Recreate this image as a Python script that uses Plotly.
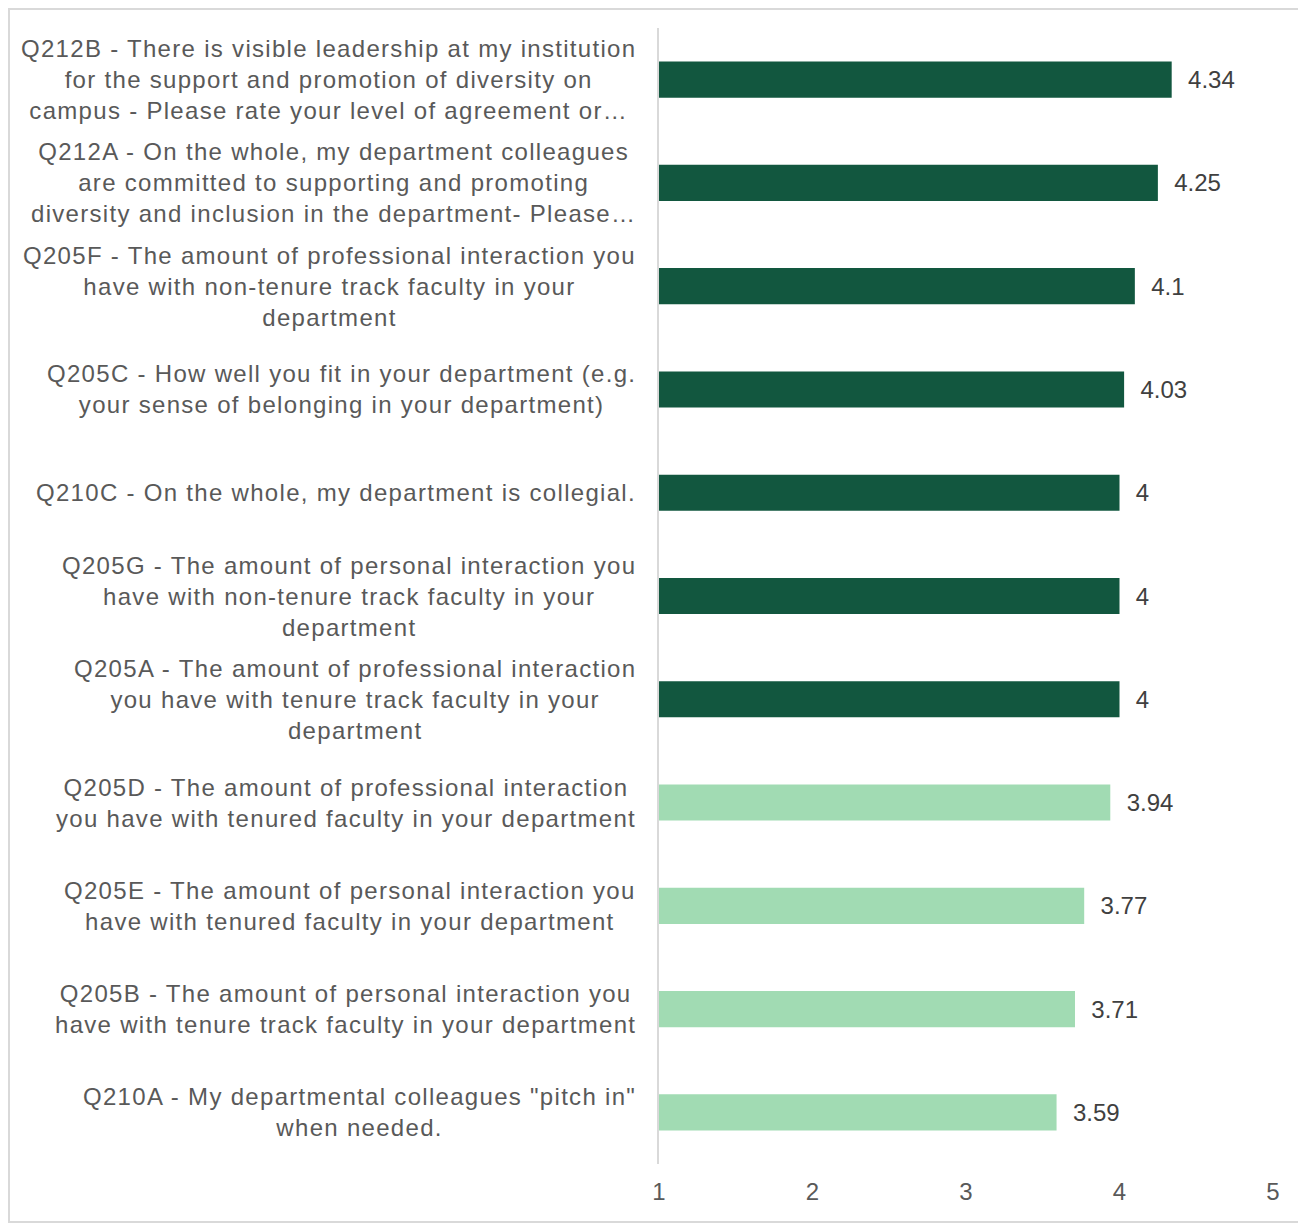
import plotly.graph_objects as go

# ── data ────────────────────────────────────────────────────────────────────
questions = [
    "Q212B - There is visible leadership at my institution<br>for the support and promotion of diversity on<br>campus - Please rate your level of agreement or…",
    "Q212A - On the whole, my department colleagues<br>are committed to supporting and promoting<br>diversity and inclusion in the department- Please…",
    "Q205F - The amount of professional interaction you<br>have with non-tenure track faculty in your<br>department",
    "Q205C - How well you fit in your department (e.g.<br>your sense of belonging in your department)",
    "Q210C - On the whole, my department is collegial.",
    "Q205G - The amount of personal interaction you<br>have with non-tenure track faculty in your<br>department",
    "Q205A - The amount of professional interaction<br>you have with tenure track faculty in your<br>department",
    "Q205D - The amount of professional interaction<br>you have with tenured faculty in your department",
    "Q205E - The amount of personal interaction you<br>have with tenured faculty in your department",
    "Q205B - The amount of personal interaction you<br>have with tenure track faculty in your department",
    "Q210A - My departmental colleagues \"pitch in\"<br>when needed.",
]
scores = [4.34, 4.25, 4.1, 4.03, 4, 4, 4, 3.94, 3.77, 3.71, 3.59]
score_labels = ["4.34", "4.25", "4.1", "4.03", "4", "4", "4", "3.94", "3.77", "3.71", "3.59"]
x_ticks = [1, 2, 3, 4, 5]

DARK = "#12573F"
LIGHT = "#A1DBB3"
FONT = "Liberation Sans, Arial, sans-serif"

cats = [f"c{i}" for i in range(len(questions))]
colors = [DARK if s >= 4 else LIGHT for s in scores]

fig = go.Figure()
fig.add_trace(go.Bar(
    y=cats,
    x=scores,
    orientation="h",
    marker=dict(color=colors, line=dict(width=0)),
    text=score_labels,
    textposition="outside",
    texttemplate="  %{text}",
    textfont=dict(size=24, color="#404040", family=FONT),
    cliponaxis=False,
    hoverinfo="skip",
))

# category labels: centred lines, block right-aligned against the axis
# (the original text is set a little wider, hence the letter spacing)
for c, q in zip(cats, questions):
    spaced = "<br>".join(
        f"<span style='letter-spacing:1.3px'>{line}</span>" for line in q.split("<br>")
    )
    fig.add_annotation(
        x=0, xref="paper", y=c, yref="y",
        text=spaced, showarrow=False,
        xanchor="right", yanchor="middle", align="center",
        xshift=-21,
        font=dict(size=24, color="#595959", family=FONT),
    )

# outer frame
fig.add_shape(type="rect", xref="paper", yref="paper",
              x0=-1.0586, x1=1.0505, y0=-0.0511, y1=1.0167,
              line=dict(color="#D9D9D9", width=2))

fig.update_layout(
    width=1306, height=1224,
    margin=dict(l=651, r=41, t=20, b=68),
    plot_bgcolor="white",
    paper_bgcolor="white",
    showlegend=False,
    bargap=0.65,
    font=dict(family=FONT, color="#595959"),
    xaxis=dict(range=[1, 5], tickvals=x_ticks, showgrid=False, zeroline=False,
               showline=False, ticks="", ticklabelstandoff=11,
               tickfont=dict(size=24, color="#595959")),
    yaxis=dict(autorange="reversed", showticklabels=False, showgrid=False,
               zeroline=False, showline=True, linecolor="#D9D9D9", linewidth=2,
               ticks=""),
)

fig.write_html("out.html")
